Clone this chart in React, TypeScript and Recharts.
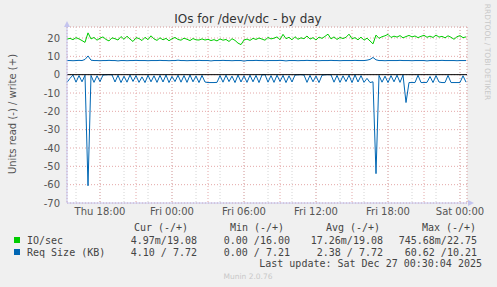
import React from 'react';
import { LineChart, Line, XAxis, YAxis, CartesianGrid, ReferenceLine } from 'recharts';

// Time of first sample (hours since Thu 00:00) and sample step (hours)
const START_HOUR = 15.25;
const STEP_HOUR = 0.25;

// IO/sec write (+)
const ioWrite = [
  19.4, 19.8, 19.1, 20.2, 19.5, 18.6, 17.6, 22.8, 19.5, 20.3, 18.8, 19.9, 20.6, 19.2, 18.4, 20.1,
  19.6, 18.9, 20.8, 19.3, 21.0, 19.4, 18.1, 20.2, 19.7, 18.6, 20.4, 19.1, 21.2, 19.5, 18.7, 20.1,
  19.0, 19.8, 18.5, 19.6, 20.3, 19.2, 18.8, 19.9, 19.3, 18.6, 19.7, 19.0, 18.9, 19.5, 18.9, 19.3,
  18.6, 19.1, 18.4, 19.5, 18.8, 19.2, 18.1, 19.6, 18.7, 17.2, 16.4, 18.9, 19.4, 18.7, 19.8, 19.2,
  20.0, 19.4, 18.8, 20.3, 19.5, 19.9, 20.6, 19.1, 22.0, 19.6, 20.4, 19.0, 20.7, 19.3, 20.1, 19.6,
  21.1, 19.4, 20.2, 18.9, 20.5, 19.8, 20.9, 22.1, 19.5, 20.6, 19.2, 20.3, 19.7, 20.4, 22.1, 19.6,
  20.2, 19.0, 20.5, 18.8, 19.9, 18.4, 16.8, 21.6, 19.8, 20.7, 21.2, 22.0, 20.3, 21.0, 20.5, 21.3,
  20.1, 20.8, 21.4, 20.6, 21.1, 20.2, 20.9, 21.5, 20.4, 21.0, 20.3, 21.6, 20.5, 20.9, 20.1, 21.2,
  20.4, 19.3, 20.7, 21.3, 20.2, 20.6,
];

// Req Size (KB) write (+)
const reqWrite = [
  7.7, 7.7, 7.6, 7.7, 7.8, 7.7, 8.3, 10.2, 7.9, 7.7, 7.7, 7.6, 7.7, 7.7, 7.8, 7.7,
  7.7, 7.5, 7.7, 7.7, 7.6, 7.7, 7.7, 7.8, 7.7, 7.7, 7.7, 7.6, 7.7, 7.7, 7.7, 7.8,
  7.7, 7.7, 7.6, 7.7, 7.7, 7.9, 7.7, 7.7, 7.6, 7.7, 7.7, 7.7, 7.8, 7.7, 7.7, 7.7,
  7.5, 7.7, 7.7, 7.7, 7.8, 7.7, 7.7, 7.6, 7.7, 7.7, 7.7, 7.4, 7.7, 7.7, 7.7, 7.8,
  7.7, 7.7, 7.6, 7.7, 7.7, 7.7, 7.7, 7.8, 7.7, 7.5, 7.7, 7.7, 7.7, 7.6, 7.7, 7.7,
  7.8, 7.7, 7.7, 7.7, 7.6, 7.7, 7.7, 7.7, 7.8, 7.7, 7.7, 7.6, 7.7, 7.7, 7.7, 7.7,
  7.8, 7.7, 7.7, 7.7, 7.9, 8.3, 9.4, 8.1, 7.7, 7.7, 7.6, 7.7, 7.7, 7.7, 7.7, 7.8,
  7.7, 7.7, 7.7, 7.6, 7.7, 7.7, 7.7, 7.7, 7.5, 7.7, 7.7, 7.7, 7.7, 7.8, 7.7, 7.7,
  7.7, 7.7, 7.6, 7.7, 7.7, 7.7,
];

// Req Size (KB) read (-), plotted below zero
const reqRead = [
  4.2, 2.0, 0.2, 4.1, 0.5, 3.9, 0.3, 60.6, 0.4, 4.2, 0.6, 3.8, 0.2, 0.1, 0.0, 0.1,
  4.0, 0.3, 4.3, 0.8, 4.1, 0.2, 3.7, 0.5, 4.2, 1.2, 4.3, 0.3, 3.9, 0.6, 4.2, 0.4,
  4.0, 0.2, 4.3, 0.9, 3.8, 0.3, 4.1, 0.5, 4.2, 0.2, 3.9, 0.7, 4.3, 0.4, 4.0, 4.3,
  4.3, 4.3, 4.2, 0.5, 4.1, 0.3, 3.8, 0.8, 4.3, 0.2, 4.0, 0.6, 4.2, 0.3, 3.9, 0.4,
  4.3, 0.1, 0.0, 4.1, 0.5, 4.2, 0.3, 3.7, 0.4, 4.3, 0.6, 4.0, 0.2, 0.1, 0.0, 0.2,
  4.2, 0.4, 3.9, 0.7, 4.3, 0.3, 0.1, 0.0, 0.1, 4.1, 0.4, 4.2, 0.6, 3.8, 0.3, 4.3,
  0.1, 4.0, 0.5, 4.2, 2.0, 4.3, 3.9, 54.0, 0.4, 4.1, 0.8, 4.3, 0.5, 3.9, 0.3, 4.2,
  0.2, 15.2, 4.3, 4.3, 4.3, 0.3, 4.3, 4.3, 4.2, 1.0, 4.3, 0.5, 4.0, 4.3, 4.3, 0.4,
  4.3, 4.3, 4.3, 4.3, 0.6, 4.1,
];

const xMajorTicks = [18, 21, 24, 27, 30, 33, 36, 39, 42, 45, 48];
const xMinorTicks = [16, 17, 18, 19, 20, 21, 22, 23, 24, 25, 26, 27, 28, 29, 30, 31, 32, 33, 34, 35, 36, 37, 38, 39, 40, 41, 42, 43, 44, 45, 46, 47, 48];
const xLabels: Record<number, string> = { 18: 'Thu 18:00', 24: 'Fri 00:00', 30: 'Fri 06:00', 36: 'Fri 12:00', 42: 'Fri 18:00', 48: 'Sat 00:00' };
const yMajorTicks = [-70, -60, -50, -40, -30, -20, -10, 0, 10, 20];
const yMinorTicks = [-70, -65, -60, -55, -50, -45, -40, -35, -30, -25, -20, -15, -10, -5, 0, 5, 10, 15, 20, 25];

const legendHeaders = ['Cur (-/+)', 'Min (-/+)', 'Avg (-/+)', 'Max (-/+)'];
const legendRows = [
  { name: 'IO/sec', color: '#00cc00', values: ['4.97m/19.08', '0.00 /16.00', '17.26m/19.08', '745.68m/22.75'] },
  { name: 'Req Size (KB)', color: '#0066b3', values: ['4.10 / 7.72', '0.00 / 7.21', '2.38 / 7.72', '60.62 /10.21'] },
];

const data = ioWrite.map((v, i) => ({
  t: START_HOUR + STEP_HOUR * i,
  io: v,
  rw: reqWrite[i],
  rr: -reqRead[i],
}));

const AXIS = '#c4c4ee';
const MONO = '"DejaVu Sans Mono", monospace';

export default function App() {
  const headerX = [161, 257, 353, 449];
  const valueX = [197, 290, 383, 477];
  return (
    <div style={{ position: 'absolute', left: 0, top: 0, width: 497, height: 287, background: '#f0f0f0', fontFamily: '"DejaVu Sans", sans-serif' }}>
      <LineChart width={497} height={287} data={data} margin={{ top: 27, right: 30, bottom: 64, left: 27 }}>
        <XAxis xAxisId="minor" dataKey="t" type="number" domain={[15.25, 48.5833]} ticks={xMinorTicks} hide />
        <YAxis yAxisId="minor" type="number" domain={[-70, 26]} ticks={yMinorTicks} hide />
        <CartesianGrid xAxisId="minor" yAxisId="minor" stroke="#d4d4d4" strokeDasharray="1 2" fill="#ffffff" />
        <CartesianGrid stroke="#e4a8a8" strokeDasharray="1 2" />
        <XAxis
          dataKey="t"
          type="number"
          domain={[15.25, 48.5833]}
          ticks={xMajorTicks}
          tickFormatter={(v: number) => xLabels[v] ?? ''}
          interval={0}
          tickSize={0}
          tickMargin={5}
          height={20}
          axisLine={{ stroke: AXIS }}
          tick={{ fontSize: 10, fill: '#555555' }}
        />
        <YAxis
          type="number"
          domain={[-70, 26]}
          ticks={yMajorTicks}
          interval={0}
          width={40}
          tickSize={0}
          tickMargin={7}
          axisLine={{ stroke: AXIS }}
          tick={{ fontSize: 10, fill: '#555555' }}
        />
        <Line dataKey="io" stroke="#00cc00" strokeWidth={1} dot={false} isAnimationActive={false} type="linear" />
        <Line dataKey="rw" stroke="#0066b3" strokeWidth={1} dot={false} isAnimationActive={false} type="linear" />
        <Line dataKey="rr" stroke="#0066b3" strokeWidth={1} dot={false} isAnimationActive={false} type="linear" />
        <ReferenceLine y={0} stroke="#000000" strokeWidth={1} ifOverflow="extendDomain" />
      </LineChart>
      <svg width={497} height={287} style={{ position: 'absolute', left: 0, top: 0, pointerEvents: 'none' }}>
        <polygon points="64,27 70,27 67,21" fill={AXIS} />
        <polygon points="468,200 468,206 474,203" fill={AXIS} />
        <text x={248} y={19} textAnchor="middle" dominantBaseline="central" fontSize={12} fill="#333333" fontFamily='"DejaVu Sans", sans-serif'>IOs for /dev/vdc - by day</text>
        <text x={12} y={114} textAnchor="middle" dominantBaseline="central" fontSize={10} fill="#555555" transform="rotate(-90 12 114)" fontFamily='"DejaVu Sans", sans-serif'>Units read (-) / write (+)</text>
        <text x={487} y={52} textAnchor="middle" dominantBaseline="central" fontSize={7.5} fill="#c8c8c8" transform="rotate(90 487 52)" fontFamily='"DejaVu Sans", sans-serif'>RRDTOOL / TOBI OETIKER</text>
        {legendHeaders.map((h, k) => (
          <text key={h} x={headerX[k]} y={227} textAnchor="middle" dominantBaseline="central" fontSize={10} fill="#444444" fontFamily={MONO}>{h}</text>
        ))}
        {legendRows.map((r, j) => (
          <g key={r.name}>
            <rect x={14} y={237 + j * 12} width={6} height={6} fill={r.color} />
            <text x={27} y={240 + j * 12} dominantBaseline="central" fontSize={10} fill="#444444" fontFamily={MONO}>{r.name}</text>
            {r.values.map((v, k) => (
              <text key={k} x={valueX[k]} y={240 + j * 12} textAnchor="end" dominantBaseline="central" fontSize={10} fill="#444444" fontFamily={MONO} style={{ whiteSpace: 'pre' }}>{v}</text>
            ))}
          </g>
        ))}
        <text x={482} y={263} textAnchor="end" dominantBaseline="central" fontSize={10} fill="#444444" fontFamily={MONO}>Last update: Sat Dec 27 00:30:04 2025</text>
        <text x={248} y={276} textAnchor="middle" dominantBaseline="central" fontSize={7.5} fill="#c8c8c8" fontFamily='"DejaVu Sans", sans-serif'>Munin 2.0.76</text>
      </svg>
    </div>
  );
}
